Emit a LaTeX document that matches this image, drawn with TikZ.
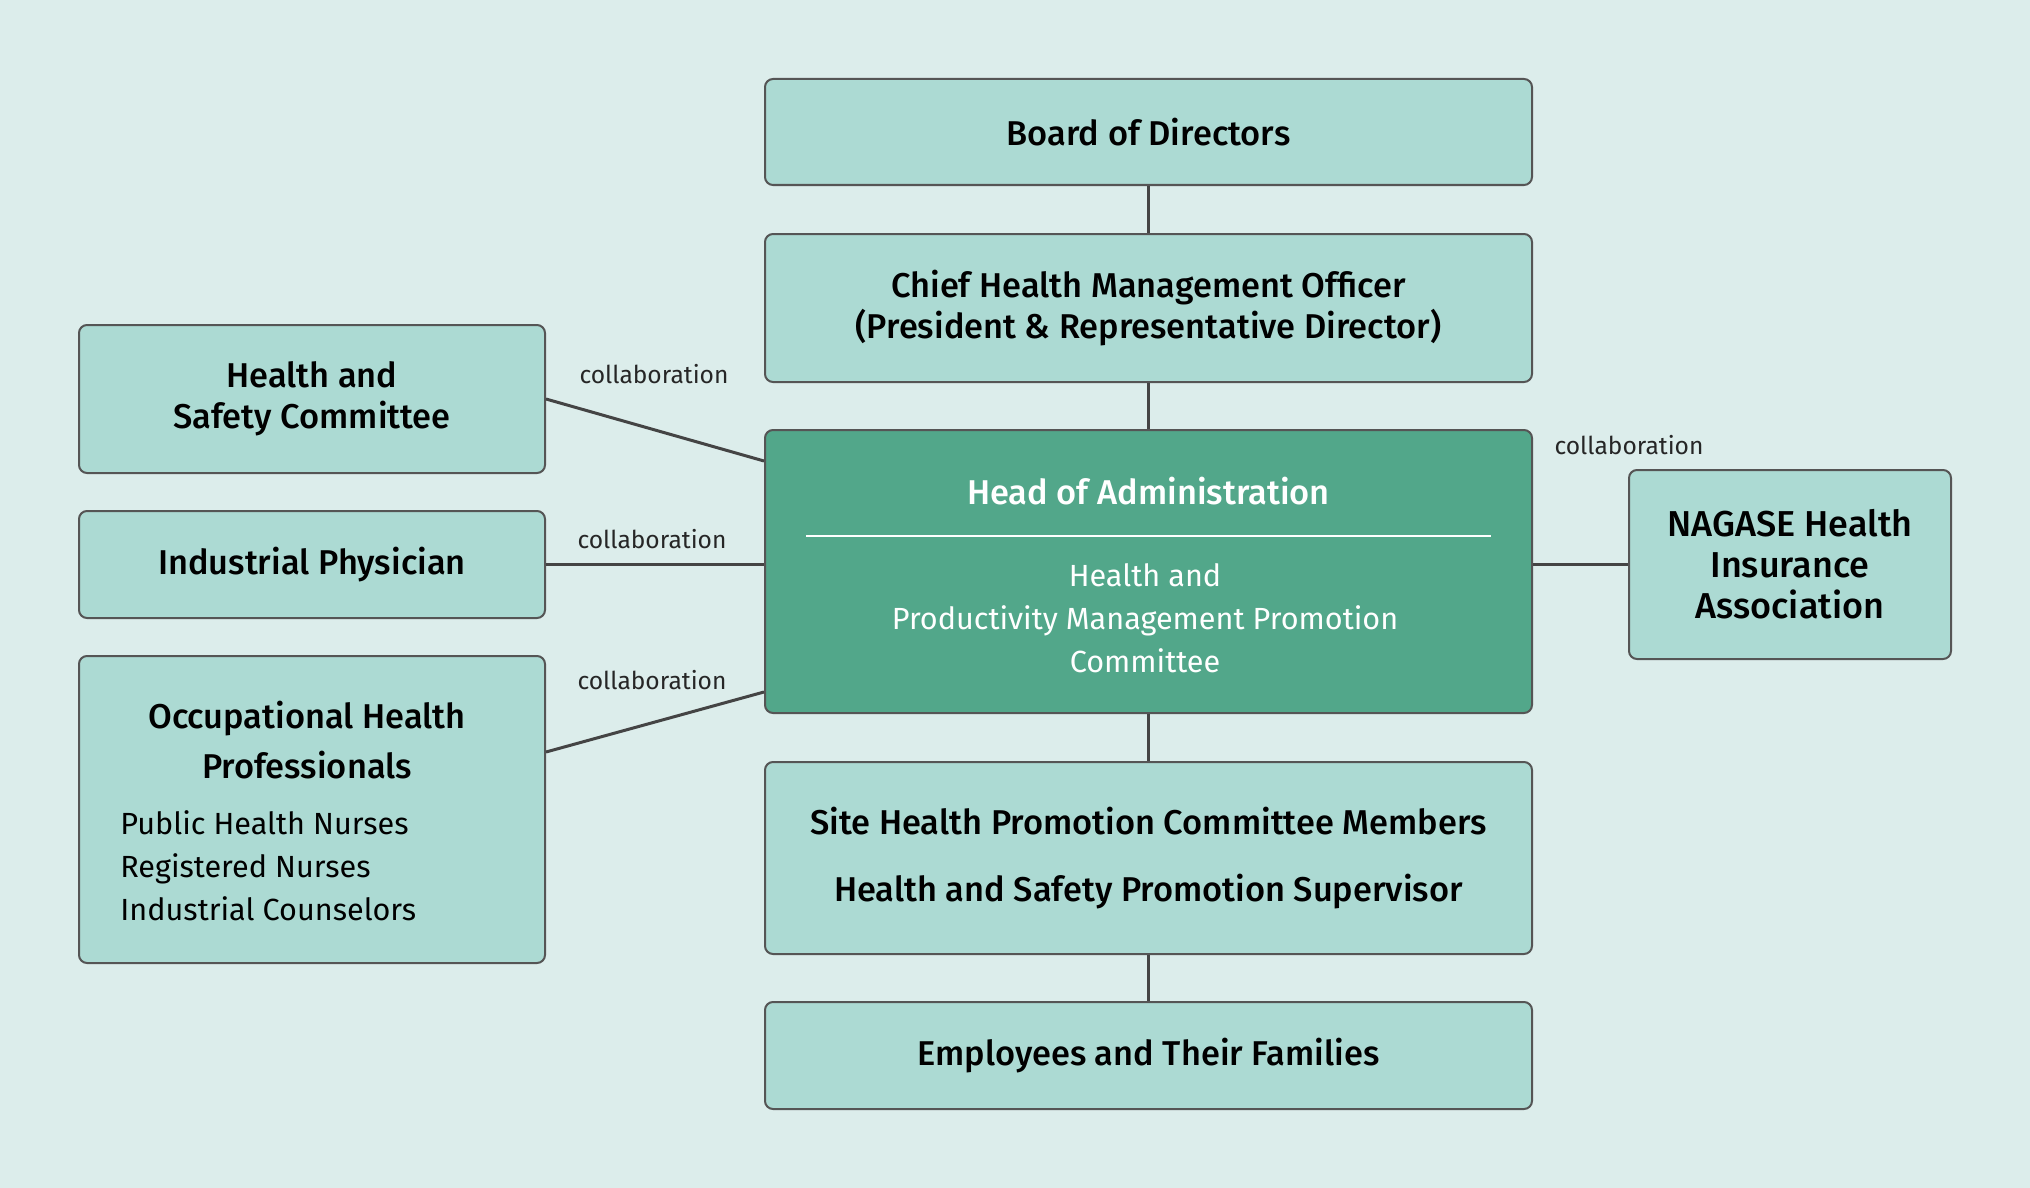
\documentclass[tikz,border=0pt]{standalone}
\usepackage{fontspec}
\setmainfont{Fira Sans}
\newfontfamily\medfont{Fira Sans Medium}
\usetikzlibrary{calc}
\definecolor{bg}{RGB}{220,237,235}
\definecolor{boxfill}{RGB}{172,218,211}
\definecolor{headfill}{RGB}{82,167,138}
\definecolor{edge}{RGB}{85,85,85}
\definecolor{linec}{RGB}{68,68,68}
\begin{document}
\begin{tikzpicture}[x=0.5pt,y=-0.5pt,
  box/.style={draw=edge, line width=1pt, fill=boxfill, rounded corners=4pt, inner sep=0pt, align=center, text=black, font=\medfont\fontsize{17.2}{20.5}\selectfont},
  headbox/.style={box, fill=headfill},
  wide/.style={minimum width=383.5pt},
  side/.style={minimum width=233pt},
  conn/.style={draw=linec, line width=1.5pt},
  collab/.style={font=\fontsize{12.3}{14}\selectfont, text=black!85},
  ttl/.style={font=\medfont\fontsize{17.2}{25}\selectfont, align=center, inner sep=0pt},
  sub/.style={font=\fontsize{15.3}{21.5}\selectfont, inner sep=0pt}]
\fill[bg] (0,0) rectangle (2030,1188);
\useasboundingbox (0,0) rectangle (2030,1188);

\node[box, wide, minimum height=53pt] (board) at (1148.5,132) {Board of Directors};
\node[box, wide, minimum height=74pt] (chief) at (1148.5,308) {Chief Health Management Officer\\(President \& Representative Director)};
\node[headbox, wide, minimum height=141.5pt] (head) at (1148.5,571.5) {};
\node[box, wide, minimum height=96pt, font=\medfont\fontsize{17.2}{33.5}\selectfont] (site) at (1148.5,858) {Site Health Promotion Committee Members\\Health and Safety Promotion Supervisor};
\node[box, wide, minimum height=53.5pt] (emp) at (1148.5,1055.5) {Employees and Their Families};

\node[box, side, minimum height=74pt] (hsc) at (312,399) {Health and\\Safety Committee};
\node[box, side, minimum height=53.5pt] (ip) at (312,564.5) {Industrial Physician};
\node[box, side, minimum height=153.5pt] (ohp) at (312,809.5) {};
\node[box, minimum width=161pt, minimum height=94.5pt, font=\medfont\fontsize{18}{20.5}\selectfont] (nag) at (1790,564.5) {NAGASE Health\\Insurance\\Association};

% head contents
\node[ttl, text=white] (headttl) at (1148.5,491) {Head of Administration};
\draw[white, line width=0.75pt] (806,536) coordinate (sepl) -- (1491,536) coordinate (sepr);
\node[sub, text=white, align=center] (headsub) at (1145,618) {Health and\\Productivity Management Promotion\\Committee};

% ohp contents
\node[ttl] (ohpttl) at (307,740) {Occupational Health\\Professionals};
\node[sub, align=left, anchor=west] (ohpsub) at (120,866) {Public Health Nurses\\Registered Nurses\\Industrial Counselors};

% connectors
\draw[conn] (board.south) -- (chief.north);
\draw[conn] (chief.south) -- (head.north);
\draw[conn] (head.south) -- (site.north);
\draw[conn] (site.south) -- (emp.north);
\draw[conn] (hsc.east) -- ($(head.north west)+(0,32)$);
\draw[conn] (ip.east) -- (ip.east -| head.west);
\draw[conn] ($(ohp.north east)+(0,97)$) -- ($(head.south west)+(0,-22)$);
\draw[conn] (nag.west -| head.east) -- (nag.west);

% labels
\node[collab] (c1) at (654,374) {collaboration};
\node[collab] (c2) at (652,539) {collaboration};
\node[collab] (c3) at (652,680) {collaboration};
\node[collab] (c4) at (1629,445) {collaboration};
\end{tikzpicture}
\end{document}
